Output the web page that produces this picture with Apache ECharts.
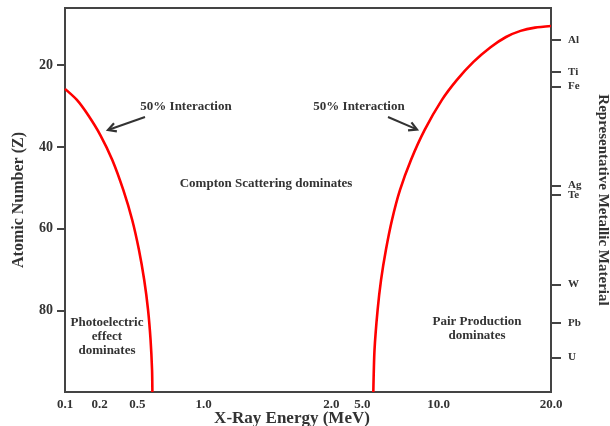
<!DOCTYPE html>
<html>
<head>
<meta charset="utf-8">
<script src="https://cdn.jsdelivr.net/npm/echarts@6/dist/echarts.min.js"></script>
<style>
  html, body { margin: 0; padding: 0; background: #fff; }
  #chart { width: 610px; height: 426px; }
</style>
</head>
<body>
<div id="chart"></div>
<script>
// ---- data ----
const energyTicks = [0.1, 0.2, 0.5, 1.0, 2.0, 5.0, 10.0, 20.0];
const energyTickLabels = ['0.1', '0.2', '0.5', '1.0', '2.0', '5.0', '10.0', '20.0'];
const zTicks = [20, 40, 60, 80];
const metalNames = ['Al', 'Ti', 'Fe', 'Ag', 'Te', 'W', 'Pb', 'U'];
const metalZ = [13.8, 21.7, 25.2, 49.4, 51.7, 73.7, 83.1, 91.5];

// 50% boundary photoelectric / Compton
const photoE = [0.1, 0.127, 0.159, 0.204, 0.2725, 0.356, 0.441, 0.508, 0.537, 0.559, 0.574, 0.583, 0.585];
const photoZ = [25.8, 28.5, 32.2, 37.1, 43.2, 50.6, 57.9, 65.2, 72.6, 79.9, 87.3, 94.6, 100];
// 50% boundary Compton / pair production
const pairE = [5.52, 5.58, 5.74, 5.92, 6.19, 6.54, 7.03, 7.77, 8.79, 10.2, 11.19, 12.39, 13.77, 15.15, 16.57, 18.12, 20];
const pairZ = [100, 89.7, 79.9, 72.6, 65.2, 57.9, 50.6, 43.2, 35.9, 28.5, 23.6, 19.2, 15.6, 13.1, 11.6, 10.8, 10.4];

// ---- schematic (non-uniform) energy axis layout ----
const energyTickSpots = [0, 0.071, 0.149, 0.285, 0.548, 0.612, 0.769, 1];
function energyToSpot(e) {
  const n = energyTicks.length;
  if (e <= energyTicks[0]) return energyTickSpots[0];
  if (e >= energyTicks[n - 1]) return energyTickSpots[n - 1];
  for (let i = 0; i < n - 1; i++) {
    const a = energyTicks[i], b = energyTicks[i + 1];
    if (e >= a && e <= b) {
      const t = Math.log(e / a) / Math.log(b / a);
      return energyTickSpots[i] + t * (energyTickSpots[i + 1] - energyTickSpots[i]);
    }
  }
  return energyTickSpots[n - 1];
}
function spotLabel(v) {
  for (let i = 0; i < energyTickSpots.length; i++) {
    if (Math.abs(energyTickSpots[i] - v) < 1e-6) return energyTickLabels[i];
  }
  return '';
}
function metalLabel(v) {
  for (let i = 0; i < metalZ.length; i++) {
    if (Math.abs(metalZ[i] - v) < 1e-6) return metalNames[i];
  }
  return '';
}

const photoData = photoE.map((e, i) => [energyToSpot(e), photoZ[i]]);
const pairData = pairE.map((e, i) => [energyToSpot(e), pairZ[i]]);

const FONT = 'Liberation Serif';
const TXT = '#333';
const AX = '#444';

function arrow(x1, y1, x2, y2) {
  const dx = x2 - x1, dy = y2 - y1;
  const len = Math.sqrt(dx * dx + dy * dy);
  const ux = dx / len, uy = dy / len;
  const h = 9, ang = 0.5;
  const c = Math.cos(ang), s = Math.sin(ang);
  const p1 = [x2 - h * (ux * c - uy * s), y2 - h * (uy * c + ux * s)];
  const p2 = [x2 - h * (ux * c + uy * s), y2 - h * (uy * c - ux * s)];
  return [
    { type: 'line', shape: { x1: x1, y1: y1, x2: x2 - ux * 1.5, y2: y2 - uy * 1.5 }, style: { stroke: TXT, lineWidth: 2 } },
    { type: 'polyline', shape: { points: [p1, [x2, y2], p2] }, style: { stroke: TXT, lineWidth: 2.2, fill: null } }
  ];
}
function label(text, x, y, size) {
  return {
    type: 'text', x: x, y: y,
    style: {
      text: text, fill: TXT, font: 'bold ' + size + 'px "' + FONT + '"',
      textAlign: 'center', textVerticalAlign: 'middle', align: 'center', verticalAlign: 'middle',
      lineHeight: 14
    }
  };
}

const chart = echarts.init(document.getElementById('chart'), null, { renderer: 'canvas' });
chart.setOption({
  animation: false,
  backgroundColor: '#fff',
  grid: {
    left: 65, right: 59, top: 8, bottom: 34,
    containLabel: false, outerBoundsMode: 'none',
    show: true, borderColor: AX, borderWidth: 2, backgroundColor: 'transparent'
  },
  xAxis: {
    type: 'value', min: 0, max: 1,
    name: 'X-Ray Energy (MeV)', nameLocation: 'middle', nameGap: 18, nameMoveOverlap: false,
    nameTextStyle: { fontFamily: FONT, fontWeight: 'bold', fontSize: 17, color: TXT, padding: [0, 32, 0, 0] },
    axisLine: { show: true, lineStyle: { color: AX, width: 2 } },
    axisTick: { show: false },
    splitLine: { show: false },
    axisLabel: {
      customValues: energyTickSpots,
      formatter: spotLabel,
      fontFamily: FONT, fontWeight: 'bold', fontSize: 13, color: TXT, margin: 6
    }
  },
  yAxis: [
    {
      type: 'value', min: 6, max: 100, inverse: true, position: 'left',
      name: 'Atomic Number (Z)', nameLocation: 'middle', nameGap: 38, nameRotate: 90, nameMoveOverlap: false,
      nameTextStyle: { fontFamily: FONT, fontWeight: 'bold', fontSize: 16, color: TXT },
      axisLine: { show: true, lineStyle: { color: AX, width: 2 } },
      axisTick: { show: true, customValues: zTicks, length: 8, lineStyle: { color: AX, width: 2 } },
      splitLine: { show: false },
      axisLabel: {
        customValues: zTicks,
        fontFamily: FONT, fontWeight: 'bold', fontSize: 14, color: TXT, margin: 12
      }
    },
    {
      type: 'value', min: 6, max: 100, inverse: true, position: 'right',
      name: 'Representative Metallic Material', nameLocation: 'middle', nameGap: 44, nameRotate: -90, nameMoveOverlap: false,
      nameTextStyle: { fontFamily: FONT, fontWeight: 'bold', fontSize: 15, color: TXT },
      axisLine: { show: true, lineStyle: { color: AX, width: 2 } },
      axisTick: { show: true, customValues: metalZ, length: 10, lineStyle: { color: AX, width: 2 } },
      splitLine: { show: false },
      axisLabel: {
        customValues: metalZ,
        formatter: metalLabel,
        fontFamily: FONT, fontWeight: 'bold', fontSize: 11, color: TXT, margin: 17
      }
    }
  ],
  series: [
    {
      type: 'line', name: 'photo', data: photoData, smooth: 0.25, showSymbol: false,
      lineStyle: { color: '#ff0000', width: 2.6 }, clip: true
    },
    {
      type: 'line', name: 'pair', data: pairData, smooth: 0.25, showSymbol: false,
      lineStyle: { color: '#ff0000', width: 2.6 }, clip: true
    }
  ],
  graphic: [].concat(
    [
      label('50% Interaction', 186, 107, 13),
      label('50% Interaction', 359, 107, 13),
      label('Compton Scattering dominates', 266, 184, 13),
      label('Photoelectric\neffect\ndominates', 107, 337, 13),
      label('Pair Production\ndominates', 477, 329, 13)
    ],
    arrow(145, 117, 108, 130),
    arrow(388, 117, 417, 129.5)
  )
});
</script>
</body>
</html>
